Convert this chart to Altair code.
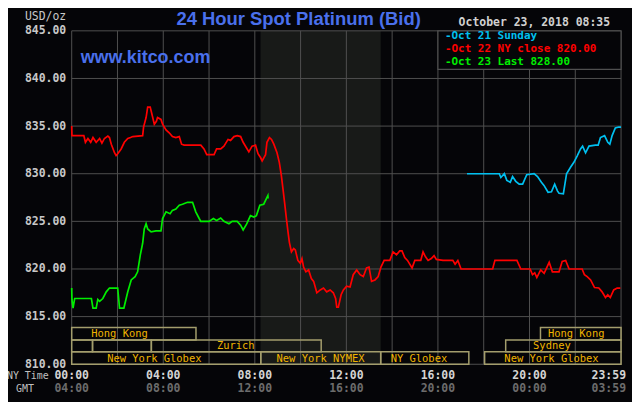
import altair as alt
import pandas as pd

# ---------------- data (hours in NY time, USD/oz) ----------------
# Oct 22, NY close 820.00 (red)
oct22_hour = [0.00, 0.01, 0.53, 0.60, 0.71, 0.83, 0.93, 1.07, 1.22, 1.32, 1.43, 1.58, 1.65, 1.73, 1.87,
              1.94, 2.01, 2.16, 2.30, 2.45, 2.57, 2.67, 3.10, 3.14, 3.25, 3.32, 3.43, 3.49, 3.61, 3.70,
              3.75, 3.90, 3.97, 4.12, 4.26, 4.40, 4.55, 4.70, 4.80, 4.91, 5.64, 5.78, 5.90, 6.22, 6.33,
              6.51, 6.65, 6.83, 6.94, 7.09, 7.23, 7.38, 7.49, 7.64, 7.74, 7.88, 8.03, 8.14, 8.25, 8.32,
              8.47, 8.53, 8.64, 8.73, 8.83, 8.97, 9.07, 9.16, 9.23, 9.30, 9.38, 9.45, 9.51, 9.60, 9.70,
              9.77, 9.88, 9.99, 10.06, 10.13, 10.23, 10.35, 10.47, 10.57, 10.71, 10.86, 11.00, 11.14,
              11.29, 11.43, 11.53, 11.58, 11.65, 11.77, 11.87, 12.01, 12.16, 12.30, 12.45, 12.60, 12.74,
              12.88, 12.99, 13.10, 13.25, 13.39, 13.51, 13.65, 13.90, 14.04, 14.19, 14.33, 14.43, 14.55,
              14.67, 14.87, 14.99, 15.25, 15.35, 15.45, 15.57, 15.71, 15.83, 15.93, 16.22, 16.65, 16.75,
              16.87, 17.01, 18.39, 18.49, 19.33, 19.45, 19.62, 20.03, 20.13, 20.23, 20.32, 20.49, 20.64,
              20.86, 21.00, 21.29, 21.43, 21.58, 21.73, 22.30, 22.40, 22.52, 22.67, 22.84, 23.03, 23.17,
              23.32, 23.42, 23.53, 23.68, 23.83, 23.97]
oct22_usd = [835.0, 834.0, 834.0, 833.3, 833.7, 833.3, 833.8, 833.3, 833.7, 833.2, 833.7, 833.95, 833.8,
             833.1, 832.2, 831.9, 832.1, 832.6, 833.3, 833.7, 833.8, 833.9, 834.0, 834.9, 835.9, 837.0,
             837.0, 836.4, 835.2, 835.5, 835.9, 835.7, 835.2, 834.6, 834.3, 833.9, 833.8, 833.9, 833.1,
             833.0, 833.0, 832.6, 832.0, 832.0, 832.6, 832.6, 832.9, 833.6, 833.5, 833.9, 834.0, 833.9,
             833.3, 832.7, 832.3, 832.9, 833.0, 832.1, 831.7, 831.35, 832.0, 833.3, 833.8, 833.6, 833.1,
             832.2, 831.2, 829.8, 828.4, 827.0, 825.3, 823.9, 822.8, 821.8, 822.15, 822.0, 820.9, 820.6,
             821.1, 820.2, 819.7, 819.9, 819.0, 818.7, 817.5, 817.8, 818.0, 817.6, 817.8, 817.5, 816.9,
             816.0, 816.0, 817.3, 817.8, 818.2, 818.1, 819.4, 819.9, 819.4, 819.2, 820.1, 820.2, 818.7,
             818.85, 819.2, 820.2, 820.9, 820.9, 821.8, 821.5, 821.9, 821.9, 821.2, 820.9, 820.1, 820.9,
             820.9, 821.8, 821.3, 820.9, 821.1, 821.4, 821.0, 820.9, 820.9, 820.5, 820.9, 820.0, 820.0,
             820.9, 820.9, 820.9, 820.0, 820.0, 819.4, 819.6, 819.1, 819.9, 819.55, 820.7, 819.7, 819.7,
             820.8, 820.9, 820.0, 820.0, 819.4, 819.2, 818.85, 818.05, 818.0, 817.6, 817.0, 817.3, 817.0,
             817.8, 818.0, 818.0]

# Oct 23, last 828.00 (green)
oct23_hour = [0.00, 0.01, 0.06, 0.13, 0.86, 0.93, 1.07, 1.14, 1.22, 1.36, 1.51, 1.65, 2.01, 2.09, 2.28,
              2.45, 2.60, 2.77, 2.88, 3.00, 3.10, 3.17, 3.25, 3.32, 3.47, 3.68, 3.90, 3.97, 4.12, 4.30,
              4.40, 4.55, 4.70, 4.84, 5.06, 5.28, 5.42, 5.57, 5.64, 6.00, 6.19, 6.33, 6.51, 6.65, 6.87,
              7.01, 7.23, 7.38, 7.49, 7.64, 7.81, 7.96, 8.07, 8.22, 8.39, 8.51, 8.57, 8.58]
oct23_usd = [818.0, 816.8, 815.9, 816.9, 816.9, 815.9, 815.9, 816.8, 816.6, 816.9, 817.6, 818.0, 818.0,
             815.9, 815.9, 817.6, 818.85, 819.2, 819.7, 821.5, 822.7, 824.2, 824.75, 824.2, 823.9, 824.0,
             824.0, 825.3, 826.0, 825.8, 826.15, 826.3, 826.7, 826.8, 827.0, 827.0, 826.0, 825.3, 825.0,
             825.0, 825.3, 825.1, 825.35, 825.0, 824.75, 825.0, 825.0, 824.6, 824.1, 824.7, 825.6, 825.45,
             825.6, 826.7, 826.8, 827.4, 827.7, 827.4]

# Oct 21, Sunday (cyan)
oct21_hour = [17.27, 18.68, 18.75, 18.90, 19.01, 19.16, 19.26, 19.40, 19.55, 19.70, 19.88, 20.20, 20.35,
              20.52, 20.64, 20.81, 20.96, 21.10, 21.22, 21.29, 21.48, 21.62, 21.80, 21.94, 22.09, 22.23,
              22.32, 22.45, 22.60, 22.88, 23.00, 23.10, 23.28, 23.42, 23.51, 23.61, 23.75, 23.90, 24.00]
oct21_usd = [830.0, 830.0, 829.6, 830.0, 829.3, 829.1, 829.7, 829.2, 828.9, 828.9, 829.9, 830.0, 829.7,
             829.1, 828.75, 828.05, 828.1, 828.9, 828.2, 827.95, 827.9, 830.0, 830.7, 831.2, 831.9, 832.6,
             832.9, 832.2, 832.9, 833.0, 833.0, 833.8, 834.0, 833.3, 833.1, 834.0, 834.8, 834.9, 834.9]

series_names = ["Oct 21 Sunday", "Oct 22 NY close 820.00", "Oct 23 Last 828.00"]
series_colors = ["#00c0f0", "#ff0000", "#00ee00"]

price_ticks = [810, 815, 820, 825, 830, 835, 840, 845]
grid_hours = [0, 2, 4, 6, 8, 10, 12, 14, 16, 18, 20, 22, 24]
label_hours = [0, 4, 8, 12, 16, 20]
ny_labels = ["00:00", "04:00", "08:00", "12:00", "16:00", "20:00"]
gmt_labels = ["04:00", "08:00", "12:00", "16:00", "20:00", "00:00"]
end_hour = 24
end_ny_label = "23:59"
end_gmt_label = "03:59"

nymex_open, nymex_close = 8.25, 13.5

session_name = ["Hong Kong", "", "", "Zurich", "New York Globex", "New York NYMEX", "NY Globex",
                "Hong Kong", "Sydney", "New York Globex"]
session_start = [0.0, 0.0, 0.91, 3.48, 0.0, 8.26, 13.5, 20.48, 18.96, 18.04]
session_end = [5.43, 0.91, 3.48, 10.9, 8.26, 13.5, 17.35, 24.0, 24.0, 24.0]
session_row = [1, 2, 2, 2, 3, 3, 3, 1, 2, 3]
session_label_at = [2.09, 0.45, 2.2, 7.17, 3.61, 10.87, 15.17, 22.04, 20.98, 20.96]

title_text = "24 Hour Spot Platinum (Bid)"
site_text = "www.kitco.com"
date_text = "October 23, 2018 08:35"

# ---------------- styling ----------------
MONO = "DejaVu Sans Mono"
SANS = "Liberation Sans"
BG = "#050508"
GRID = "#505050"
BLUE = "#4a70ec"
GOLD = "#f0b400"
BOX = "#a39d6c"
W, H = 552, 335

# session row levels (in price units of the plot)
row_levels = {1: (812.55, 813.85), 2: (811.3, 812.55), 3: (810.0, 811.3)}

xs = alt.Scale(domain=[0, 24], nice=False, zero=False)
ys = alt.Scale(domain=[810, 845], nice=False, zero=False)
y_axis = alt.Axis(values=price_ticks, format=".2f", grid=False, domain=False, ticks=False,
                  labelPadding=6, labelFont=MONO, labelFontSize=11.5, labelFontWeight="bold",
                  labelColor="#c8c8c8", labelFlush=False, labelOverlap=False,
                  title="USD/oz", titleAngle=0, titleAlign="right", titleBaseline="middle",
                  titleX=-6, titleY=-14, titleFont=MONO, titleFontSize=11.5,
                  titleFontWeight="normal", titleColor="#c8c8c8")


def X(field):
    return alt.X(field, type="quantitative", scale=xs, axis=None)


def Y(field):
    return alt.Y(field, type="quantitative", scale=ys, axis=y_axis)


# shaded NYMEX session
shade_df = pd.DataFrame({"s": [nymex_open], "e": [nymex_close], "lo": [810], "hi": [845]})
shade = alt.Chart(shade_df).mark_rect(color="#181a18").encode(
    x=X("s"), x2="e", y=Y("lo"), y2="hi")

vgrid = alt.Chart(pd.DataFrame({"h": grid_hours})).mark_rule(color=GRID, strokeWidth=1).encode(x=X("h"))
hgrid = alt.Chart(pd.DataFrame({"v": price_ticks})).mark_rule(color=GRID, strokeWidth=1).encode(y=Y("v"))

# legend box
lbox_df = pd.DataFrame({"s": [16], "e": [24], "lo": [840.95], "hi": [845]})
lbox = alt.Chart(lbox_df).mark_rect(fill=BG, stroke=GRID, strokeWidth=1.2).encode(
    x=X("s"), x2="e", y=Y("lo"), y2="hi")

# price lines
frames = []
for name, hrs, vals in [(series_names[0], oct21_hour, oct21_usd),
                        (series_names[1], oct22_hour, oct22_usd),
                        (series_names[2], oct23_hour, oct23_usd)]:
    frames.append(pd.DataFrame({"series": name, "hour": hrs, "usd": vals}))
lines_df = pd.concat(frames, ignore_index=True)
lines = alt.Chart(lines_df).mark_line(strokeWidth=1.7, interpolate="linear").encode(
    x=X("hour"), y=Y("usd"),
    color=alt.Color("series:N", scale=alt.Scale(domain=series_names, range=series_colors), legend=None),
    detail="series:N")

# session boxes
sess_df = pd.DataFrame({"name": session_name, "start": session_start, "end": session_end,
                        "row": session_row, "label_at": session_label_at})
sess_df["lo"] = [row_levels[r][0] for r in sess_df["row"]]
sess_df["hi"] = [row_levels[r][1] for r in sess_df["row"]]
sess_df["mid"] = (sess_df["lo"] + sess_df["hi"]) / 2
boxes = alt.Chart(sess_df).mark_rect(fillOpacity=0, stroke=BOX, strokeWidth=1.5).encode(
    x=X("start"), x2="end", y=Y("lo"), y2="hi")
box_text = alt.Chart(sess_df).mark_text(font=MONO, fontSize=10.5, color=GOLD, baseline="middle",
                                        align="center", dy=0.5).encode(
    x=X("label_at"), y=Y("mid"), text="name:N")

# time labels
tl_df = pd.DataFrame({"h": label_hours, "ny": ny_labels, "gmt": gmt_labels})
ny_text = alt.Chart(tl_df).mark_text(font=MONO, fontSize=11.5, fontWeight="bold", color="#d4d4d4",
                                     baseline="middle", align="center").encode(
    x=X("h"), y=alt.value(347), text="ny:N")
gmt_text = alt.Chart(tl_df).mark_text(font=MONO, fontSize=11.5, fontWeight="bold", color="#6c6c6c",
                                      baseline="middle", align="center").encode(
    x=X("h"), y=alt.value(360), text="gmt:N")
end_df = pd.DataFrame({"h": [end_hour], "ny": [end_ny_label], "gmt": [end_gmt_label]})
end_ny = alt.Chart(end_df).mark_text(font=MONO, fontSize=11.5, fontWeight="bold", color="#d4d4d4",
                                     baseline="middle", align="right", dx=5).encode(
    x=X("h"), y=alt.value(347), text="ny:N")
end_gmt = alt.Chart(end_df).mark_text(font=MONO, fontSize=11.5, fontWeight="bold", color="#6c6c6c",
                                      baseline="middle", align="right", dx=5).encode(
    x=X("h"), y=alt.value(360), text="gmt:N")
ny_title = alt.Chart(pd.DataFrame({"t": ["NY Time"]})).mark_text(
    font=MONO, fontSize=10, color="#c0c0c0", baseline="middle", align="right").encode(
    x=alt.value(-23), y=alt.value(347), text="t:N")
gmt_title = alt.Chart(pd.DataFrame({"t": ["GMT"]})).mark_text(
    font=MONO, fontSize=10, color="#c0c0c0", baseline="middle", align="center").encode(
    x=alt.value(-47), y=alt.value(360), text="t:N")

# titles
title = alt.Chart(pd.DataFrame({"t": [title_text]})).mark_text(
    font=SANS, fontSize=18.5, fontWeight="bold", color=BLUE, baseline="middle", align="center").encode(
    x=alt.value(228), y=alt.value(-12), text="t:N")
site = alt.Chart(pd.DataFrame({"t": [site_text]})).mark_text(
    font=SANS, fontSize=18, fontWeight="bold", color=BLUE, baseline="middle", align="left").encode(
    x=alt.value(9), y=alt.value(27), text="t:N")
date = alt.Chart(pd.DataFrame({"t": [date_text]})).mark_text(
    font=MONO, fontSize=11.5, fontWeight="bold", color="#d0d0d0", baseline="middle", align="right").encode(
    x=alt.value(541), y=alt.value(-8), text="t:N")

# legend entries
legend_layers = []
for i, (name, col) in enumerate(zip(series_names, series_colors)):
    legend_layers.append(
        alt.Chart(pd.DataFrame({"t": ["-" + name]})).mark_text(
            font=MONO, fontSize=11, fontWeight="bold", color=col, baseline="middle", align="left").encode(
            x=alt.value(375), y=alt.value(5.5 + 13 * i), text="t:N"))

chart = alt.layer(
    shade, vgrid, hgrid, lbox, lines, boxes, box_text,
    ny_text, gmt_text, end_ny, end_gmt, ny_title, gmt_title,
    title, site, date, *legend_layers
).properties(
    width=W, height=H,
    padding={"left": 64, "top": 22, "right": 11, "bottom": 37},
    autosize=alt.AutoSizeParams(type="none"),
).configure(background=BG).configure_view(strokeWidth=0)

chart.save("out.html", embed_options={"renderer": "svg", "actions": False})
